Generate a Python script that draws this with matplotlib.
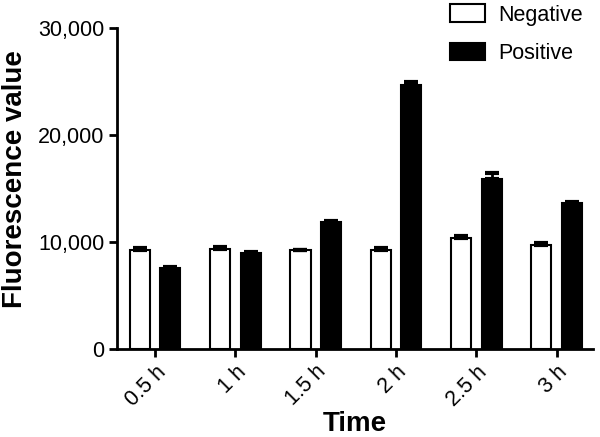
import matplotlib
matplotlib.use("Agg")
import matplotlib.pyplot as plt
import matplotlib.transforms as mtransforms
import numpy as np

# data
times = ["0.5 h", "1 h", "1.5 h", "2 h", "2.5 h", "3 h"]
negative = [9250, 9350, 9250, 9250, 10400, 9750]
negative_err = [150, 150, 0, 150, 200, 150]
positive = [7540, 8940, 11840, 24670, 15860, 13650]
positive_err = [100, 100, 100, 250, 550, 100]

plt.rcParams['font.family'] = ['Liberation Sans', 'DejaVu Sans']

fig = plt.figure(figsize=(6, 4.37), dpi=100)
ax = fig.add_axes([0.195, 0.2014, 0.793, 0.7346])

x = np.arange(len(times))
w = 0.25
off = 0.19

ax.bar(x - off, negative, w, color='white', edgecolor='black', linewidth=1.5, label='Negative', zorder=2)
ax.bar(x + off, positive, w, color='black', edgecolor='black', linewidth=1.5, label='Positive', zorder=2)

# error bars, upper side only
ax.errorbar(x - off, negative, yerr=[np.zeros(len(x)), negative_err], fmt='none',
            ecolor='black', elinewidth=2, capsize=5, capthick=3, zorder=3)
ax.errorbar(x + off, positive, yerr=[np.zeros(len(x)), positive_err], fmt='none',
            ecolor='black', elinewidth=2, capsize=5, capthick=3, zorder=3)

ax.set_xlim(-0.475, 5.45)
ax.set_ylim(0, 30000)
ax.set_yticks([0, 10000, 20000, 30000])
ax.set_yticklabels(['0', '10,000', '20,000', '30,000'])
ax.set_xticks(x)
ax.set_xticklabels(times, rotation=45, ha='right', rotation_mode='anchor')
# nudge rotated labels a little to the right, as in the reference
shift = mtransforms.ScaledTranslation(5 / 100, 0, fig.dpi_scale_trans)
for lab in ax.get_xticklabels():
    lab.set_transform(lab.get_transform() + shift)

for s in ['top', 'right']:
    ax.spines[s].set_visible(False)
for s in ['left', 'bottom']:
    ax.spines[s].set_linewidth(2)
ax.tick_params(axis='both', direction='out', length=6, width=2, labelsize=15.5, pad=3)

ax.set_ylabel('Fluorescence value', fontsize=20, fontweight='bold')
ax.set_xlabel('Time', fontsize=20, fontweight='bold', va='baseline')
ax.yaxis.set_label_coords(-0.187, 0.53)
ax.xaxis.set_label_coords(0.5, -0.257)

fig.legend(loc='upper left', bbox_to_anchor=(0.75, 0.99), frameon=False, fontsize=15.5,
           handlelength=1.63, handleheight=0.88, labelspacing=0.8, handletextpad=0.6,
           borderpad=0, borderaxespad=0)

fig.savefig('out.png', dpi=100)
